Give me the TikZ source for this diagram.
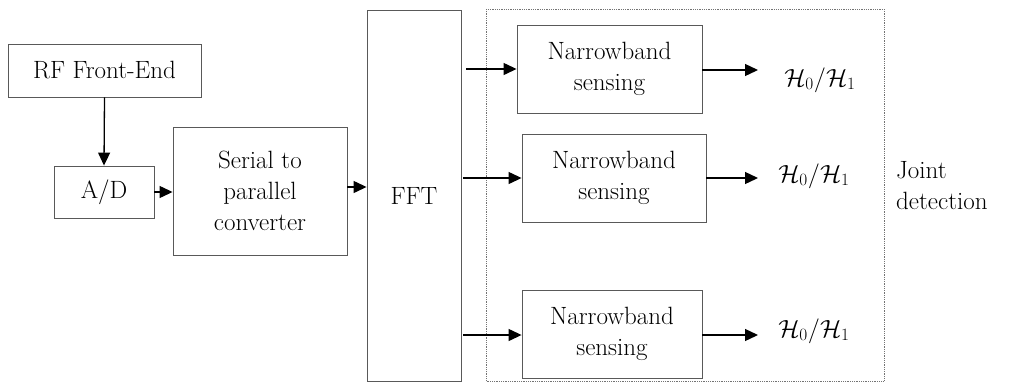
\documentclass[tikz,border=0pt]{standalone}
\usetikzlibrary{arrows.meta,calc}
\begin{document}
\begin{tikzpicture}[x=1pt,y=-1pt,
  blk/.style={draw=black!65,line width=0.9pt,align=center,inner sep=0pt,font=\fontsize{25}{31}\selectfont},
  arr/.style={line width=1.3pt,-{Triangle[length=13pt,width=12pt]}},
  lbl/.style={font=\fontsize{25}{31}\selectfont,inner sep=0pt}]
\useasboundingbox (0,0) rectangle (1009,383);
\draw[black!55,line width=0.8pt,densely dotted] (486,9) rectangle (884,381);
\node[blk,minimum width=193pt,minimum height=53pt] (rf) at (104.5,70.5) {RF Front-End};
\node[blk,minimum width=100pt,minimum height=52pt] (ad) at (104,192) {A/D};
\node[blk,minimum width=174pt,minimum height=128pt] (sp) at (260,191) {Serial to\\parallel\\converter};
\node[blk,minimum width=94pt,minimum height=371pt] (fft) at (414,195.5) {FFT};
\node[blk,minimum width=185pt,minimum height=88pt] (nb1) at (609.5,69) {Narrowband\\sensing};
\node[blk,minimum width=184pt,minimum height=88pt] (nb2) at (614,178) {Narrowband\\sensing};
\node[blk,minimum width=180pt,minimum height=88pt] (nb3) at (612,334) {Narrowband\\sensing};
\coordinate (o1) at (758,70);
\coordinate (o2) at (758,178);
\coordinate (o3) at (758,335);
\node[lbl] (h1) at (820,80) {$\mathcal{H}_0/\mathcal{H}_1$};
\node[lbl] (h2) at (814,176) {$\mathcal{H}_0/\mathcal{H}_1$};
\node[lbl] (h3) at (814,331) {$\mathcal{H}_0/\mathcal{H}_1$};
\node[lbl,anchor=west,align=left] (jd) at (896,186) {Joint\\detection};
\draw[arr] (rf.south) -- (ad.north);
\draw[arr] (ad.east) -- (ad.east -| sp.west);
\draw[arr] ($(sp.east)+(0,-4)$) -- ($(sp.east -| fft.west)+(0,-4)$);
\draw[arr,shorten <=5pt] (nb1.west -| fft.east) -- (nb1.west);
\draw[arr,shorten <=2pt] (nb2.west -| fft.east) -- (nb2.west);
\draw[arr,shorten <=2pt] ($(nb3.west -| fft.east)+(0,1)$) -- ($(nb3.west)+(0,1)$);
\draw[arr] (nb1.east |- o1) -- (o1);
\draw[arr] (nb2.east |- o2) -- (o2);
\draw[arr] (nb3.east |- o3) -- (o3);
\end{tikzpicture}
\end{document}
